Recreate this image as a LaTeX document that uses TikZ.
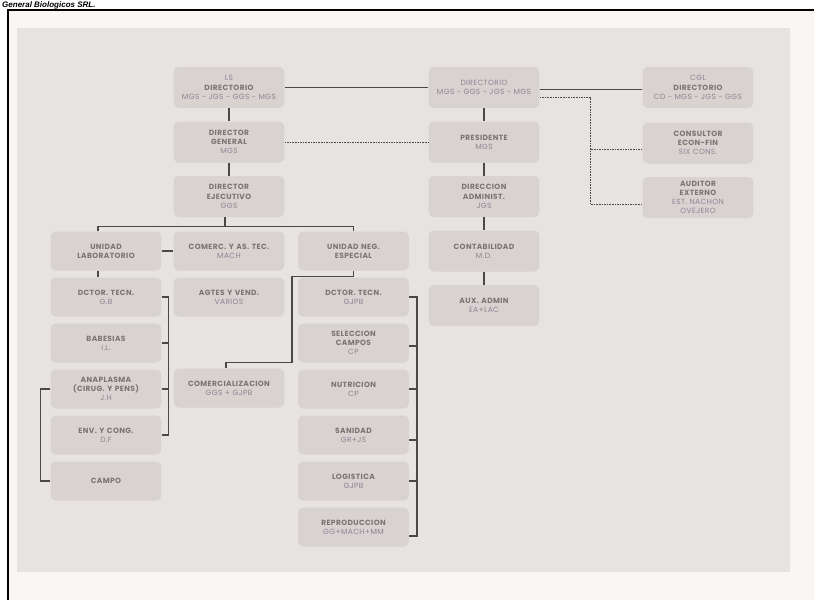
\documentclass[tikz,border=0pt]{standalone}
\usepackage{fontspec}
\setmainfont{Poppins}[LetterSpace=5]
\newfontfamily\headfont{Liberation Sans}
\usetikzlibrary{positioning}
\definecolor{paper}{HTML}{FAF6F4}
\definecolor{panelgray}{HTML}{E6E3E1}
\definecolor{boxgray}{HTML}{D8D2D1}
\definecolor{inkgray}{HTML}{7E7274}
\definecolor{whogray}{HTML}{8C8694}
\definecolor{linegray}{HTML}{4C4848}
\tikzstyle{unit} = [rectangle, rounded corners=5pt, minimum width=108pt, minimum height=39pt, text width=104pt, align=center, fill=boxgray, text=inkgray, font=\fontsize{7.5}{9.2}\selectfont\bfseries]
\tikzstyle{topunit} = [unit, minimum height=41pt]
\tikzstyle{link} = [draw=linegray, line width=1.2pt]
\tikzstyle{dotlink} = [draw=linegray, line width=1pt, dash pattern=on 1.6pt off 1pt]
\newcommand{\who}[1]{{\mdseries\color{whogray}#1}}

\begin{document}
\begin{tikzpicture}[x=1pt, y=1pt, node distance=46pt]
\useasboundingbox (0,0) rectangle (814,-600);
\fill [paper] (8,-10) rectangle (814,-600);
\fill [panelgray] (17,-28) rectangle (790,-572);
\draw [line width=2pt] (8,-600) -- (8,-10) -- (814,-10);
\node (title) [anchor=base west, inner sep=0pt, font=\headfont\bfseries\itshape\fontsize{8}{8}\selectfont] at (2,-7.5) {General Biologicos SRL.};

% board and management
\node (ls) [topunit] at (229,-87.5) {\who{LS}\\DIRECTORIO\\\who{MGS - JGS - GGS - MGS}};
\node (dgen) [topunit, node distance=54.5pt, below of=ls] {DIRECTOR\\GENERAL\\\who{MGS}};
\node (dejec) [topunit, node distance=54.5pt, below of=dgen] {DIRECTOR\\EJECUTIVO\\\who{GGS}};
\node (dir) [topunit] at (484,-87.5) {\who{DIRECTORIO}\\\who{MGS - GGS - JGS - MGS}};
\node (pres) [topunit, node distance=54.5pt, below of=dir] {PRESIDENTE\\\who{MGS}};
\node (dadm) [topunit, node distance=54.5pt, below of=pres] {DIRECCION\\ADMINIST.\\\who{JGS}};
\node (conta) [topunit, node distance=54.5pt, below of=dadm] {CONTABILIDAD\\\who{M.D.}};
\node (aux) [topunit, node distance=54.5pt, below of=conta] {AUX. ADMIN\\\who{EA+LAC}};
\node (cgl) [topunit] at (698,-87.5) {\who{CGL}\\DIRECTORIO\\\who{CD - MGS - JGS - GGS}};
\node (cons) [topunit, node distance=54.5pt, below of=cgl, yshift=-1pt] {CONSULTOR\\ECON-FIN\\\who{SIX CONS.}};
\node (audit) [topunit, node distance=54.5pt, below of=cons] {AUDITOR\\EXTERNO\\\who{EST. NACHON\\OVEJERO}};

% units
\node (unilab) [unit, node distance=54.5pt, below of=dejec, xshift=-123pt] {UNIDAD\\LABORATORIO};
\node (comerc) [unit, node distance=54.5pt, below of=dejec] {COMERC. Y AS. TEC.\\\who{MACH}};
\node (unineg) [unit, node distance=54.5pt, below of=dejec, xshift=124.5pt] {UNIDAD NEG.\\ESPECIAL};

% laboratorio
\node (dlab) [unit, below of=unilab] {DCTOR. TECN.\\\who{G.B}};
\node (babes) [unit, below of=dlab] {BABESIAS\\\who{I.L.}};
\node (anapl) [unit, below of=babes] {ANAPLASMA\\(CIRUG. Y PENS)\\\who{J.H}};
\node (env) [unit, below of=anapl] {ENV. Y CONG.\\\who{D.F}};
\node (campo) [unit, below of=env] {CAMPO};

% comercial
\node (agtes) [unit, below of=comerc] {AGTES Y VEND.\\\who{VARIOS}};
\node (comercial) [unit, below of=agtes, yshift=-45pt] {COMERCIALIZACION\\\who{GGS + GJPB}};

% negocio especial
\node (dneg) [unit, below of=unineg] {DCTOR. TECN.\\\who{GJPB}};
\node (selec) [unit, below of=dneg] {SELECCION\\CAMPOS\\\who{CP}};
\node (nutri) [unit, below of=selec] {NUTRICION\\\who{CP}};
\node (sanid) [unit, below of=nutri] {SANIDAD\\\who{GR+JS}};
\node (logis) [unit, below of=sanid] {LOGISTICA\\\who{GJPB}};
\node (repro) [unit, below of=logis] {REPRODUCCION\\\who{GG+MACH+MM}};

% solid lines
\draw [link] (ls) -- (dgen);
\draw [link] (dgen) -- (dejec);
\draw [link] (ls) -- (dir);
\draw [link] ([yshift=-2pt]dir.east) -- ([yshift=-2pt]cgl.west);
\draw [link] (dir) -- (pres);
\draw [link] (pres) -- (dadm);
\draw [link] (dadm) -- (conta);
\draw [link] (conta) -- (aux);
\draw [link] ([xshift=-4pt]dejec.south) -- ++(0,-9.5pt) -| ([xshift=-8pt]unilab.north);
\draw [link] ([xshift=-4pt]dejec.south) -- ++(0,-9.5pt) -| (unineg.north);
\draw [link] (unilab) -- (comerc);
\draw [link] ([xshift=-8pt]unilab.south) -- ([xshift=-8pt]dlab.north);
\draw [link] (dlab.east) -- ++(7pt,0) |- (env.east);
\draw [link] (babes.east) -- ++(7pt,0);
\draw [link] (anapl.east) -- ++(7pt,0);
\draw [link] (anapl.west) -- ++(-10pt,0) |- (campo.west);
\draw [link] (unineg.south) -- ++(0,-6pt) -| ++(-61.5pt,-86pt) -| ([xshift=-3pt]comercial.north);
\draw [link] (dneg.east) -- ++(8pt,0) |- ([yshift=-9pt]repro.east);
\draw [link] ([yshift=-3pt]selec.east) -- ++(8pt,0);
\draw [link] (nutri.east) -- ++(8pt,0);
\draw [link] ([yshift=-5pt]sanid.east) -- ++(8pt,0);
\draw [link] (logis.east) -- ++(8pt,0);

% dotted lines
\draw [dotlink] (dgen) -- (pres);
\draw [dotlink] ([yshift=-10pt]dir.east) -| ([xshift=-52pt,yshift=-7pt]audit.west) -- ([yshift=-7pt]audit.west);
\draw [dotlink] ([yshift=-6pt]cons.west) -- ++(-52pt,0);
\end{tikzpicture}
\end{document}
